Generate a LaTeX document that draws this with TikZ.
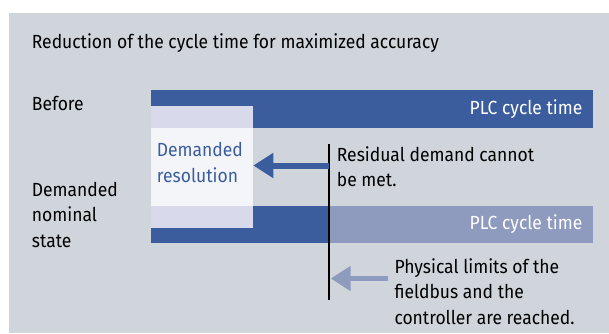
\documentclass[tikz,border=0pt]{standalone}
\usepackage{fontspec}
\setmainfont{Fira Sans}[FakeStretch=0.92]
\usetikzlibrary{arrows.meta,positioning}
\definecolor{bggray}{RGB}{208,213,219}
\definecolor{plcblue}{RGB}{59,93,157}
\definecolor{plclight}{RGB}{142,155,190}
\definecolor{reslav}{RGB}{216,218,236}
\definecolor{respale}{RGB}{244,245,248}

\begin{document}
\begin{tikzpicture}[x=1pt,y=-1pt,font=\fontsize{19}{25.5}\selectfont,
  lbl/.style={anchor=base west,align=left,inner sep=0pt},
  plc/.style={anchor=base east,inner sep=0pt,text=white},
  bigarrow/.style={line width=6pt,-{Triangle[length=20pt,width=24pt]}}]
\useasboundingbox (0,0) rectangle (609,333);
\fill[bggray] (9,13) rectangle (609,333);
% cycle bars
\fill[plcblue] (151,90) rectangle (593,127.5);
\fill[plcblue] (151,206) rectangle (329.3,243.3);
\fill[plclight] (329.3,206) rectangle (593,243);
\fill[reslav] (151,106) rectangle (253.3,228);
\fill[respale] (151,127.5) rectangle (253.3,206);
% texts (base = last line)
\node[lbl] (title) at (31.7,48.3) {Reduction of the cycle time for maximized accuracy};
\node[lbl] (before) at (31.7,110) {Before};
\node[lbl] (nominal) at (31.7,247.2) {Demanded\\nominal\\state};
\node[lbl,text=plcblue] (resol) at (156.7,182.2) {Demanded\\resolution};
\node[plc] (plcold) at (582.5,114.5) {PLC cycle time};
\node[plc] (plcnew) at (582.5,229.5) {PLC cycle time};
\node[lbl] (residual) at (336.7,186.5) {Residual demand cannot\\be met.};
\node[lbl] (limits) at (394.3,324.3) {Physical limits of the\\fieldbus and the\\controller are reached.};
% limit line and arrows
\coordinate (limtop) at (329.3,144);
\coordinate (limbot) at (329.3,300);
\draw[line width=2pt] (limtop) -- (limbot);
\coordinate (resin) at (253.3,165.5);
\coordinate (limin) at (330.7,278.5);
\coordinate (limout) at (388.3,278.5);
\draw[bigarrow,plcblue] (limtop |- resin) -- (resin);
\draw[bigarrow,plclight,line width=5.7pt] (limout) -- (limin);
\end{tikzpicture}
\end{document}
